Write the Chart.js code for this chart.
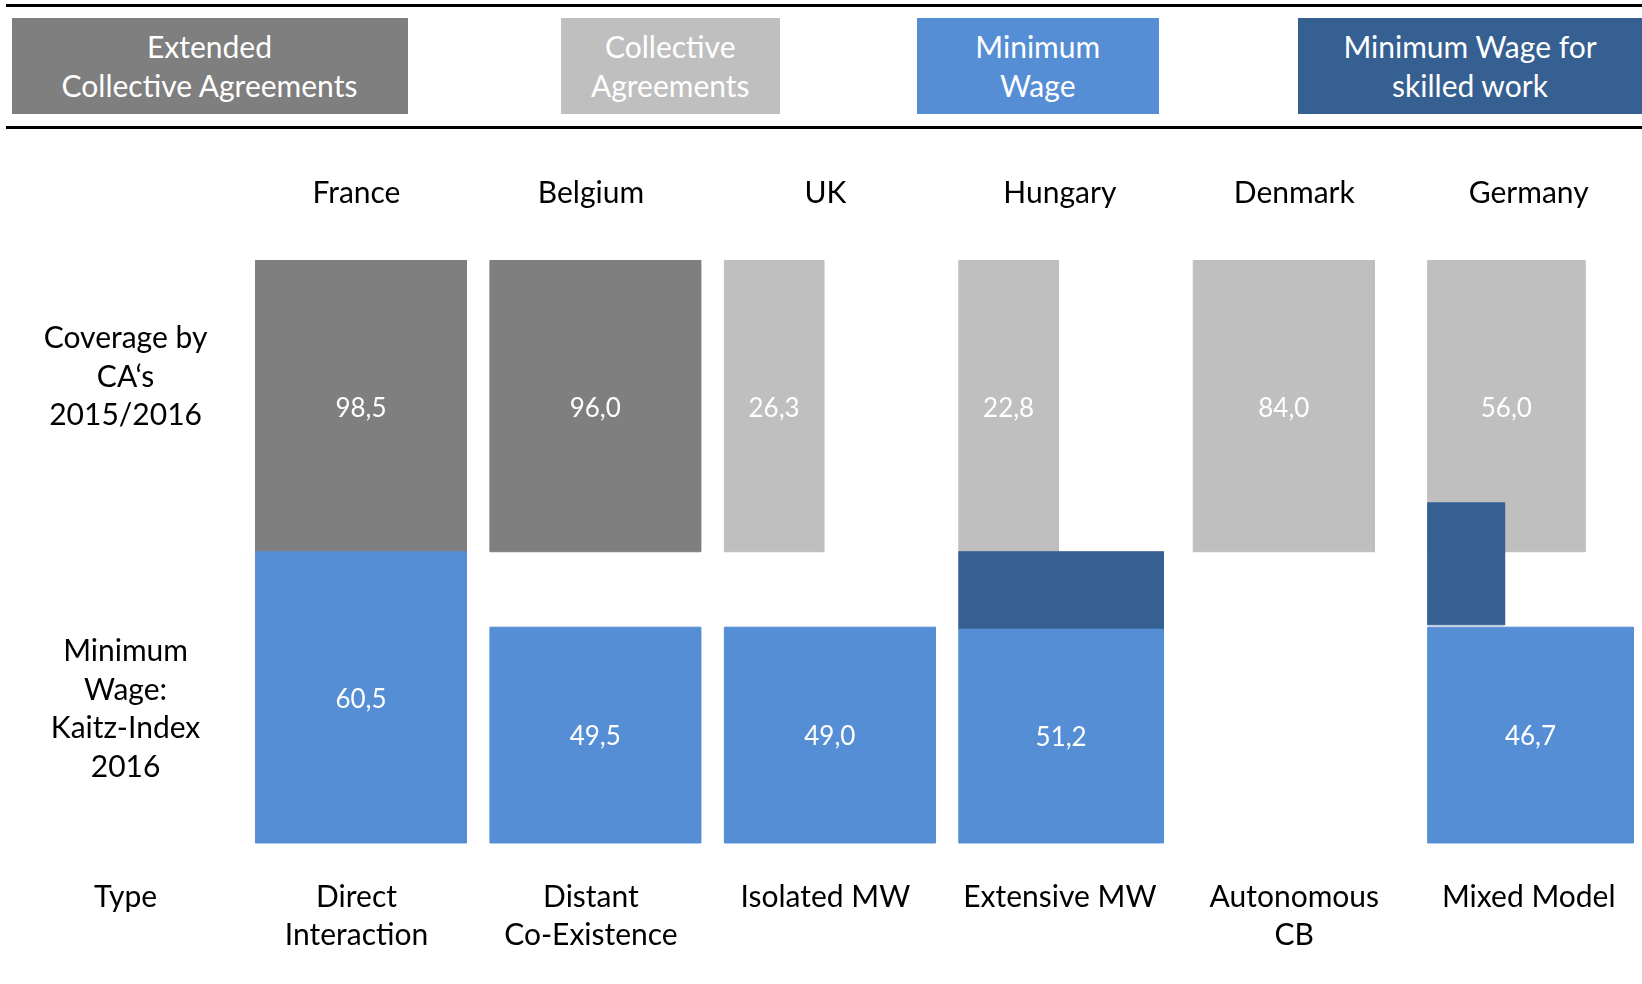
<!DOCTYPE html>
<html lang="en">
<head>
<meta charset="UTF-8">
<title>Collective agreements and minimum wage</title>
<script src="https://cdn.jsdelivr.net/npm/chart.js@4.4.0/dist/chart.umd.min.js"></script>
<style>
    html, body { margin: 0; padding: 0; background: #fff; }
    body { position: relative; width: 1642px; height: 984px; overflow: hidden; font-family: Lato, 'Open Sans', sans-serif; }
    #chartCanvas { position: absolute; left: 0; top: 0; }
    .rule { position: absolute; left: 6px; right: 0; height: 3.5px; background: #000; z-index: 2; }
    .legend-box {
        position: absolute; top: 18px; height: 96px; z-index: 2;
        display: flex; align-items: center; justify-content: center;
        text-align: center; color: #fff; font-size: 30px; line-height: 38.7px;
    }
</style>
</head>
<body>
<div class="rule" style="top:3.5px"></div>
<div id="legend"></div>
<div class="rule" style="top:125.5px"></div>
<canvas id="chartCanvas" width="1642" height="984"></canvas>
<script>
// Chart data
const countries = ['France', 'Belgium', 'UK', 'Hungary', 'Denmark', 'Germany'];
const types = [['Direct', 'Interaction'], ['Distant', 'Co-Existence'], 'Isolated MW', 'Extensive MW', ['Autonomous', 'CB'], 'Mixed Model'];
const coverage = [98.5, 96.0, 26.3, 22.8, 84.0, 56.0];
const kaitz = [60.5, 49.5, 49.0, 51.2, null, 46.7];
// 0 = extended collective agreements, 1 = collective agreements
const coverageKind = [0, 0, 1, 1, 1, 1];
const skilledMW = [false, false, false, true, false, true];
const seriesNames = [['Extended', 'Collective Agreements'], ['Collective', 'Agreements'], ['Minimum', 'Wage'], ['Minimum Wage for', 'skilled work']];
const rowLabels = [['Coverage by', 'CA‘s', '2015/2016'], ['Minimum', 'Wage:', 'Kaitz-Index', '2016'], 'Type'];

// Colours
const seriesColors = ['#7f7f7f', '#bfbfbf', '#558ed5', '#366092'];

// Box layout in axis units (one column per country, rows run downwards)
const colLeft = -0.431;
const caWidth = [0.9, 0.899, 0.424, 0.425, 0.773, 0.671];
const mwWidth = [0.9, 0.899, 0.9, 0.873, 0, 0.877];
const mwTop = [1, 1.259, 1.259, 1.266, 0, 1.259];
const skilledWidth = [0, 0, 0, 0.873, 0, 0.328];
const skilledTop = [0, 0, 0, 1, 0, 0.832];
const skilledBottom = [0, 0, 0, 1.266, 0, 1.251];
const caTop = 0, caBottom = 1, mwBottom = 2;
const rowLabelX = -0.985;
const rowLabelY = [0.4, 1.541];

// Legend box positions (px)
const legendLeft = [11.5, 561, 917, 1297.5];
const legendWidth = [396, 218.5, 241.5, 345];

const FONT = 'Lato';
const LINE_H = 38.7;

document.addEventListener('DOMContentLoaded', function() {
    createLegend();
    createChart();
});

// Legend boxes above the chart
function createLegend() {
    const legend = document.getElementById('legend');
    seriesNames.forEach((name, i) => {
        const box = document.createElement('div');
        box.className = 'legend-box';
        box.style.left = legendLeft[i] + 'px';
        box.style.width = legendWidth[i] + 'px';
        box.style.background = seriesColors[i];
        box.innerHTML = name.join('<br>');
        legend.appendChild(box);
    });
}

function formatValue(v) {
    return v.toFixed(1).replace('.', ',');
}

function rectPoints(x0, x1, y0, y1) {
    return [{x: x0, y: y0}, {x: x1, y: y0}, {x: x1, y: y1}, {x: x0, y: y1}, {x: x0, y: y0}];
}

function boxDataset(kind, i, width, top, bottom, text) {
    const x0 = i + colLeft;
    return {
        label: seriesNames[kind].join(' ') + ' - ' + countries[i],
        data: rectPoints(x0, x0 + width, top, bottom),
        backgroundColor: seriesColors[kind],
        borderColor: seriesColors[kind],
        borderWidth: 1,
        fill: 'shape',
        showLine: true,
        tension: 0,
        pointRadius: 0,
        valueText: text
    };
}

// One filled box per country and series; first dataset is drawn on top
function buildDatasets() {
    const mw = [], skilled = [], ca = [];
    countries.forEach((c, i) => {
        if (kaitz[i] !== null) {
            mw.push(boxDataset(2, i, mwWidth[i], mwTop[i], mwBottom, formatValue(kaitz[i])));
        }
        if (skilledMW[i]) {
            skilled.push(boxDataset(3, i, skilledWidth[i], skilledTop[i], skilledBottom[i], ''));
        }
        ca.push(boxDataset(coverageKind[i], i, caWidth[i], caTop, caBottom, formatValue(coverage[i])));
    });
    return mw.concat(skilled, ca);
}

// Values inside the boxes and the row titles on the left
const boxLabels = {
    id: 'boxLabels',
    afterDatasetsDraw(chart) {
        const ctx = chart.ctx;
        const xs = chart.scales.x;
        const ys = chart.scales.y;
        ctx.save();
        ctx.textAlign = 'center';
        ctx.textBaseline = 'middle';
        ctx.fillStyle = '#fff';
        ctx.font = '26px ' + FONT;
        chart.data.datasets.forEach(ds => {
            if (!ds.valueText) return;
            const p = ds.data;
            const cx = xs.getPixelForValue((p[0].x + p[1].x) / 2);
            const cy = ys.getPixelForValue((p[0].y + p[2].y) / 2);
            ctx.fillText(ds.valueText, cx, cy + 2);
        });

        ctx.fillStyle = '#000';
        ctx.font = '30px ' + FONT;
        const lx = xs.getPixelForValue(rowLabelX);
        rowLabelY.forEach((yv, r) => {
            const lines = rowLabels[r];
            const cy = ys.getPixelForValue(yv);
            lines.forEach((line, k) => {
                ctx.fillText(line, lx, cy + (k - (lines.length - 1) / 2) * LINE_H);
            });
        });
        ctx.restore();
    }
};

function createChart() {
    const ctx = document.getElementById('chartCanvas').getContext('2d');
    const xMin = -1.5206, xMax = 5.4831;
    const tickFont = {family: FONT, size: 30, lineHeight: LINE_H / 30};

    new Chart(ctx, {
        type: 'scatter',
        data: { datasets: buildDatasets() },
        options: {
            responsive: false,
            animation: false,
            devicePixelRatio: 1,
            layout: { padding: 0 },
            plugins: {
                legend: { display: false },
                tooltip: { enabled: false }
            },
            scales: {
                x: {
                    type: 'linear',
                    position: 'bottom',
                    min: xMin,
                    max: xMax,
                    grid: { display: false, drawTicks: false },
                    border: { display: false },
                    afterBuildTicks: axis => {
                        axis.ticks = [rowLabelX].concat(countries.map((c, i) => i)).map(v => ({ value: v }));
                    },
                    afterFit: axis => { axis.height = 124; },
                    ticks: {
                        color: '#000',
                        font: tickFont,
                        padding: 17.5,
                        autoSkip: false,
                        maxRotation: 0,
                        minRotation: 0,
                        callback: (value, index) => index === 0 ? rowLabels[2] : types[index - 1]
                    }
                },
                xTop: {
                    type: 'linear',
                    position: 'top',
                    min: xMin,
                    max: xMax,
                    grid: { display: false, drawTicks: false },
                    border: { display: false },
                    afterBuildTicks: axis => {
                        axis.ticks = countries.map((c, i) => ({ value: i }));
                    },
                    afterFit: axis => { axis.height = 240; },
                    ticks: {
                        color: '#000',
                        font: tickFont,
                        padding: 27,
                        autoSkip: false,
                        maxRotation: 0,
                        minRotation: 0,
                        callback: (value, index) => countries[index]
                    }
                },
                y: {
                    type: 'linear',
                    display: false,
                    reverse: true,
                    min: -0.0704,
                    max: 2.0584
                }
            }
        },
        plugins: [boxLabels]
    });
}
</script>
</body>
</html>
